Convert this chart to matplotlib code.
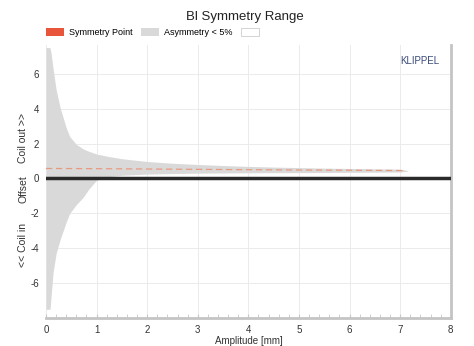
import matplotlib.pyplot as plt
from matplotlib.patches import Patch

plt.rcParams['font.family'] = ['Liberation Sans', 'DejaVu Sans']
plt.rcParams['axes.unicode_minus'] = False

# values
amp = [0.0, 0.08, 0.1, 0.14, 0.2, 0.28, 0.4, 0.47, 0.6, 0.73, 0.85, 1.0, 1.25, 1.5,
       2.0, 2.5, 3.0, 3.5, 4.0, 4.5, 5.0, 5.5, 6.0, 6.5, 7.0, 7.15]
upper = [7.5, 7.5, 7.2, 6.3, 5.1, 4.05, 2.9, 2.4, 1.95, 1.7, 1.55, 1.4, 1.25, 1.13,
         0.97, 0.87, 0.8, 0.74, 0.69, 0.65, 0.62, 0.59, 0.57, 0.55, 0.53, 0.45]
lower = [-7.5, -7.5, -6.8, -5.4, -4.3, -3.5, -2.5, -2.0, -1.5, -1.1, -0.6, -0.1, 0.1, 0.18,
         0.25, 0.28, 0.3, 0.31, 0.32, 0.33, 0.33, 0.34, 0.35, 0.36, 0.37, 0.42]
sym_amp = [0.0, 1.0, 2.0, 3.0, 4.0, 5.0, 6.0, 7.1]
sym = [0.57, 0.56, 0.54, 0.52, 0.5, 0.48, 0.47, 0.45]

fig = plt.figure(figsize=(4.74, 3.46), dpi=100)
ax = fig.add_axes([0.097, 0.081, 0.854, 0.789])

ax.fill_between(amp, lower, upper, color='#d9d9d9', linewidth=0, zorder=2)
ax.plot(sym_amp, sym, '--', color='#e89a80', linewidth=0.9, dashes=(5, 3), zorder=3)
ax.axhline(0, color='#2a2a2a', linewidth=2.5, zorder=4)

ax.set_xlim(0, 8)
ax.set_ylim(-8, 7.65)
ax.set_xticks(range(0, 9))
ax.set_yticks([-6, -4, -2, 0, 2, 4, 6])
ax.set_xticks([i * 0.2 for i in range(41)], minor=True)
ax.grid(True, color='#ebebeb', linewidth=0.7, zorder=0)
ax.set_axisbelow(True)

ax.tick_params(axis='both', labelsize=7, colors='#333333', length=0, pad=5)
ax.tick_params(axis='x', which='minor', direction='in', length=3, color='#c8c8c8', width=0.6)
ax.tick_params(axis='x', which='major', direction='in', length=3, color='#c8c8c8')

for s in ['top', 'left']:
    ax.spines[s].set_visible(False)
for s in ['right', 'bottom']:
    ax.spines[s].set_color('#c4c4c4')
    ax.spines[s].set_linewidth(2)

ax.set_xlabel('Amplitude [mm]', fontsize=7, color='#333333', labelpad=1)

fig.text(0.049, 0.601, 'Coil out >>', rotation=90, fontsize=7.5, color='#333333', ha='center', va='center')
fig.text(0.049, 0.454, 'Offset', rotation=90, fontsize=7.5, color='#333333', ha='center', va='center')
fig.text(0.049, 0.292, '<< Coil in', rotation=90, fontsize=7.5, color='#333333', ha='center', va='center')

fig.text(0.516, 0.952, 'Bl Symmetry Range', fontsize=9.5, color='#222222', ha='center', va='center')

handles = [Patch(facecolor='#e8553a', edgecolor='none', label='Symmetry Point'),
           Patch(facecolor='#d9d9d9', edgecolor='none', label='Asymmetry < 5%'),
           Patch(facecolor='white', edgecolor='#cccccc', linewidth=0.6, label='')]
fig.legend(handles=handles, loc='center left', bbox_to_anchor=(0.079, 0.907), ncol=3,
           frameon=False, fontsize=6.5, handlelength=2.0, handleheight=1.0,
           columnspacing=0.9, handletextpad=0.6)

ax.text(0.973, 0.96, 'KLIPPEL', transform=ax.transAxes, fontsize=7, color='#3a4a7a',
        ha='right', va='top')

fig.savefig('out.png', dpi=100)
